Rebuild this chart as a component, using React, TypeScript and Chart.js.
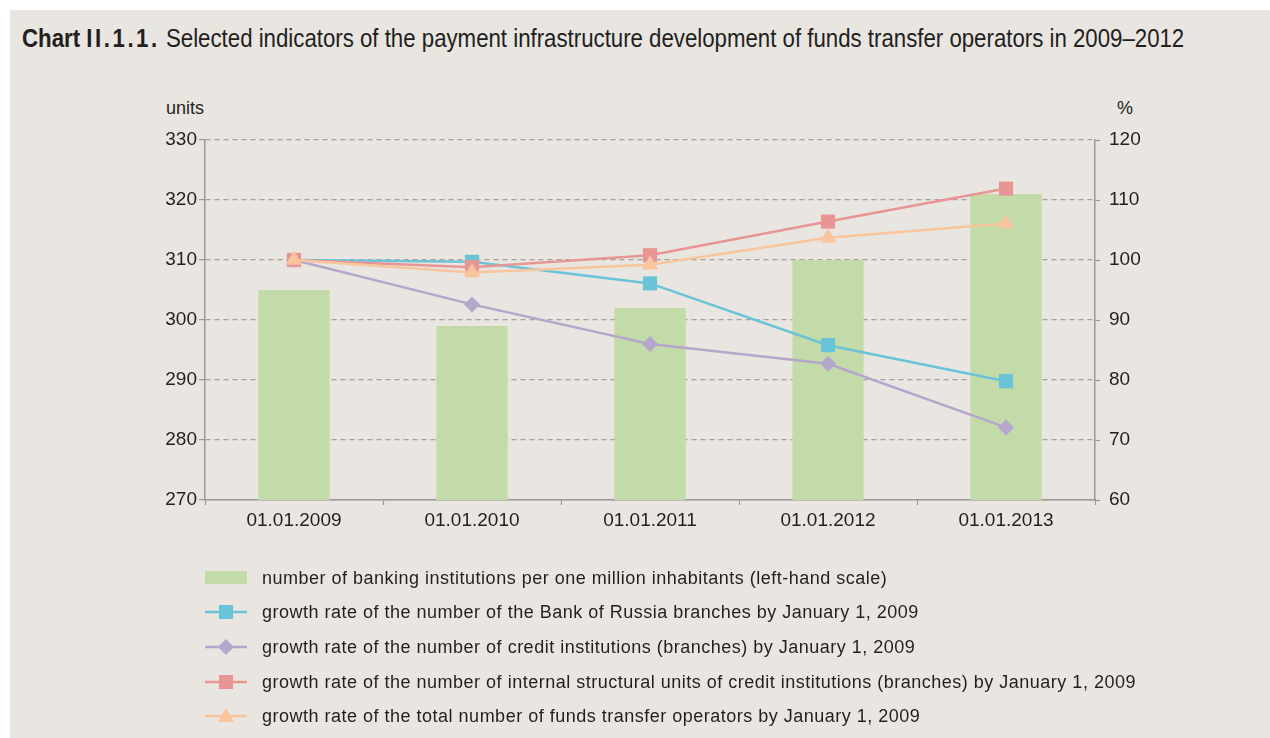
import React, { useEffect, useRef } from "react";
import { Chart, registerables } from "chart.js";

Chart.register(...registerables);

const categories = ["01.01.2009", "01.01.2010", "01.01.2011", "01.01.2012", "01.01.2013"];
const banksPerMillion = [305, 299, 302, 310, 321];
const bankOfRussiaGrowth = [100, 99.7, 96.1, 85.8, 79.8];
const creditInstitutionsGrowth = [100, 92.6, 86.0, 82.7, 72.1];
const internalUnitsGrowth = [100, 98.8, 100.8, 106.4, 111.9];
const fundsTransferGrowth = [100, 97.9, 99.2, 103.7, 106.1];

const leftMin = 270;
const leftMax = 330;
const rightMin = 60;
const rightMax = 120;
const tickStep = 10;

const titleBoldA = "Chart ";
const titleBoldB = "II.1.1.";
const titleRest = " Selected indicators of the payment infrastructure development of funds transfer operators in 2009\u20132012";
const leftUnit = "units";
const rightUnit = "%";

const legendLabels = [
  "number of banking institutions per one million inhabitants (left-hand scale)",
  "growth rate of the number of the Bank of Russia branches by January 1, 2009",
  "growth rate of the number of credit institutions (branches) by January 1, 2009",
  "growth rate of the number of internal structural units of credit institutions (branches) by January 1, 2009",
  "growth rate of the total number of funds transfer operators by January 1, 2009",
];

const GREEN = "#c3dba8";
const BLUE = "#6bc3d8";
const PURPLE = "#b4a7cb";
const RED = "#e89693";
const ORANGE = "#f8c59d";
const TEXT = "#231f20";
const AXIS = "#9b9895";
const GRID = "#a5a19d";
const PANEL = "#e9e5e1";
const FONT = "'Liberation Sans', Arial, Helvetica, sans-serif";

function LegendIcon({ kind, color }: { kind: string; color: string }) {
  return (
    <svg width={44} height={20} style={{ display: "block" }}>
      {kind === "bar" ? (
        <rect x={1} y={3} width={42} height={13} fill={color} />
      ) : (
        <g>
          <line x1={1} y1={10} x2={43} y2={10} stroke={color} strokeWidth={2.5} />
          {kind === "square" && <rect x={15} y={3} width={14} height={14} fill={color} />}
          {kind === "diamond" && <polygon points="22,2 30,10 22,18 14,10" fill={color} />}
          {kind === "triangle" && <polygon points="22,2 30,16 14,16" fill={color} />}
        </g>
      )}
    </svg>
  );
}

export default function App() {
  const canvasRef = useRef<HTMLCanvasElement | null>(null);

  useEffect(() => {
    const canvas = canvasRef.current;
    if (!canvas) return;
    const tickFont = { family: FONT, size: 19 };
    const lineDs = (label: string, data: number[], color: string, style: any, radius: number, order: number) => ({
      type: "line" as const,
      label,
      data,
      yAxisID: "y1",
      borderColor: color,
      backgroundColor: color,
      borderWidth: 2.5,
      pointStyle: style,
      pointRadius: radius,
      pointHoverRadius: radius,
      pointBackgroundColor: color,
      pointBorderColor: color,
      pointBorderWidth: 0,
      tension: 0,
      order,
    });
    const chart = new Chart(canvas, {
      type: "bar",
      data: {
        labels: categories,
        datasets: [
          {
            type: "bar",
            label: legendLabels[0],
            data: banksPerMillion,
            yAxisID: "y",
            backgroundColor: GREEN,
            barPercentage: 0.4,
            categoryPercentage: 1.0,
            order: 5,
          } as any,
          lineDs(legendLabels[1], bankOfRussiaGrowth, BLUE, "rect", 10, 4),
          lineDs(legendLabels[2], creditInstitutionsGrowth, PURPLE, "rectRot", 8, 3),
          lineDs(legendLabels[3], internalUnitsGrowth, RED, "rect", 10, 2),
          lineDs(legendLabels[4], fundsTransferGrowth, ORANGE, "triangle", 9.5, 1),
        ],
      },
      options: {
        animation: false,
        responsive: false,
        maintainAspectRatio: false,
        layout: { padding: { left: 145, right: 115, top: 140, bottom: 198 } },
        plugins: {
          legend: { display: false },
          title: { display: false },
          tooltip: { enabled: false },
        },
        scales: {
          x: {
            offset: true,
            grid: {
              display: true,
              drawOnChartArea: false,
              drawTicks: true,
              tickLength: 5,
              offset: true,
              tickColor: AXIS,
              tickWidth: 1.2,
            },
            border: { display: true, color: AXIS, width: 1.5 },
            ticks: { font: tickFont, color: TEXT, padding: 4 },
            afterFit: (s: any) => {
              s.height = 40;
            },
          },
          y: {
            position: "left",
            min: leftMin,
            max: leftMax,
            ticks: { stepSize: tickStep, font: tickFont, color: TEXT, padding: 2 },
            grid: {
              color: GRID,
              lineWidth: 1.2,
              tickLength: 6,
              tickColor: AXIS,
              tickWidth: 1.2,
              tickBorderDash: [],
            },
            border: { display: true, color: AXIS, width: 1.5, dash: [5, 4] },
            afterFit: (s: any) => {
              s.width = 60;
            },
          },
          y1: {
            position: "right",
            min: rightMin,
            max: rightMax,
            ticks: { stepSize: tickStep, font: tickFont, color: TEXT, padding: 9 },
            grid: {
              drawOnChartArea: false,
              tickLength: 5,
              tickColor: AXIS,
              tickWidth: 1.2,
            },
            border: { display: true, color: AXIS, width: 1.5 },
            afterFit: (s: any) => {
              s.width = 60;
            },
          },
        },
      },
    });
    return () => chart.destroy();
  }, []);

  const icons = [
    { kind: "bar", color: GREEN },
    { kind: "square", color: BLUE },
    { kind: "diamond", color: PURPLE },
    { kind: "square", color: RED },
    { kind: "triangle", color: ORANGE },
  ];
  const legendY = [578, 612, 647, 682, 716];

  return (
    <div style={{ position: "absolute", left: 0, top: 0, width: 1270, height: 738, background: "#ffffff", overflow: "hidden" }}>
      <div style={{ position: "absolute", left: 10, top: 10, right: 0, bottom: 0, background: PANEL }} />
      <div
        style={{
          position: "absolute",
          left: 22,
          top: 22,
          whiteSpace: "nowrap",
          fontFamily: FONT,
          fontSize: 26,
          color: TEXT,
          lineHeight: "32px",
          transform: "scaleX(0.855)",
          transformOrigin: "0 0",
        }}
      >
        <span style={{ fontWeight: "bold" }}>{titleBoldA}</span>
        <span style={{ fontWeight: "bold", letterSpacing: "3px" }}>{titleBoldB}</span>
        <span>{titleRest}</span>
      </div>
      <div style={{ position: "absolute", left: 166, top: 97, fontFamily: FONT, fontSize: 18, color: TEXT, lineHeight: "22px" }}>
        {leftUnit}
      </div>
      <div style={{ position: "absolute", left: 1117, top: 97, fontFamily: FONT, fontSize: 18, color: TEXT, lineHeight: "22px" }}>
        {rightUnit}
      </div>
      <canvas
        ref={canvasRef}
        width={1270}
        height={738}
        style={{ position: "absolute", left: 0, top: 0, width: 1270, height: 738 }}
      />
      {legendLabels.map((label, i) => (
        <div key={i} style={{ position: "absolute", left: 204, top: legendY[i] - 11, height: 22 }}>
          <div style={{ position: "absolute", left: 0, top: 1 }}>
            <LegendIcon kind={icons[i].kind} color={icons[i].color} />
          </div>
          <span
            style={{
              position: "absolute",
              left: 58,
              top: 0,
              whiteSpace: "nowrap",
              fontFamily: FONT,
              fontSize: 18,
              letterSpacing: "0.5px",
              color: TEXT,
              lineHeight: "22px",
            }}
          >
            {label}
          </span>
        </div>
      ))}
    </div>
  );
}
